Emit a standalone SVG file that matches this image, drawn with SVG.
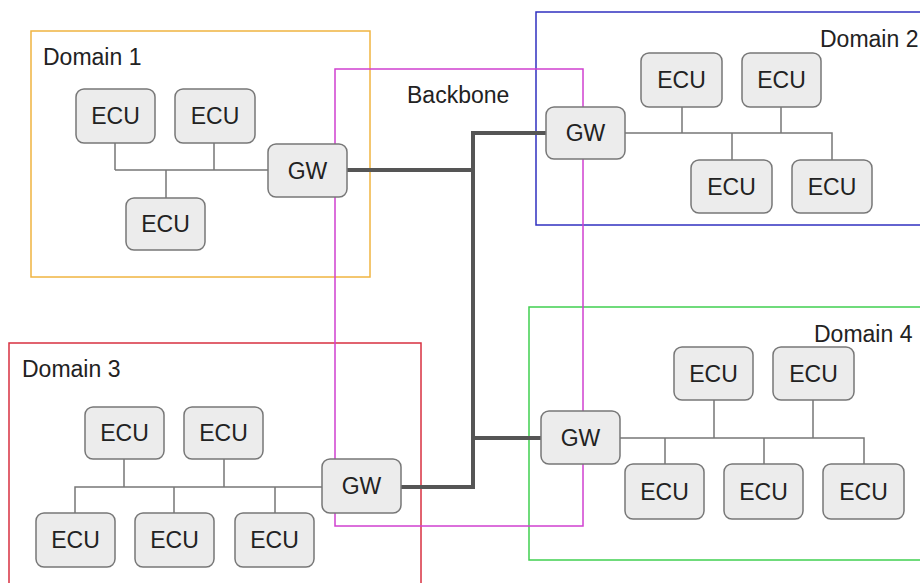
<svg xmlns="http://www.w3.org/2000/svg" width="920" height="583" viewBox="0 0 920 583">
<style>
  .bg{fill:#ffffff}
  .dom{fill:none;stroke-width:1.5}
  .lbl{font-family:"Liberation Sans",Arial,sans-serif;font-size:23px;fill:#222}
  .node rect{fill:#ececec;stroke:#777;stroke-width:1.5}
  .node text{font-family:"Liberation Sans",Arial,sans-serif;font-size:23px;fill:#222;text-anchor:middle}
  .bus{fill:none;stroke:#777;stroke-width:1.5}
  .bb{fill:none;stroke:#555;stroke-width:4;stroke-linejoin:miter}
</style>
<rect class="bg" x="0" y="0" width="920" height="583"/>

<g id="domain1"><rect class="dom" x="31" y="31" width="339" height="246" stroke="#f0b440"/><text class="lbl" x="43" y="65">Domain 1</text></g>
<g id="domain2"><rect class="dom" x="536" y="12" width="390" height="213" stroke="#3030c0"/><text class="lbl" x="820" y="47">Domain 2</text></g>
<g id="domain3"><rect class="dom" x="9" y="343" width="412" height="250" stroke="#d83040"/><text class="lbl" x="22" y="377">Domain 3</text></g>
<g id="domain4"><rect class="dom" x="529" y="307" width="400" height="253" stroke="#40d050"/><text class="lbl" x="814" y="342">Domain 4</text></g>
<g id="backbone"><rect class="dom" x="335" y="69" width="248" height="457" stroke="#d040d0"/><text class="lbl" x="407" y="103">Backbone</text></g>

<g id="connectors">
  <!-- Domain 1 bus -->
  <path class="bus" d="M115 170 H268 M115 143 V170 M214 143 V170 M166 170 V198"/>
  <!-- Domain 2 bus -->
  <path class="bus" d="M625 133 H832 V160 M682 107 V133 M781 107 V133 M732 133 V160"/>
  <!-- Domain 3 bus -->
  <path class="bus" d="M75 513 V487 H322 M124 459 V487 M224 459 V487 M174 487 V513 M275 487 V513"/>
  <!-- Domain 4 bus -->
  <path class="bus" d="M620 438 H864 V464 M714 400 V438 M813 400 V438 M665 438 V464 M764 438 V464"/>
  <!-- Backbone -->
  <path class="bb" d="M347 170 H473 M546 133 H473 V487 H400 M473 438 H541"/>
</g>

<g id="d1-ecu1" class="node"><rect x="76" y="89" width="79" height="54" rx="8"/><text x="115.5" y="124">ECU</text></g>
<g id="d1-ecu2" class="node"><rect x="175" y="89" width="80" height="54" rx="8"/><text x="215" y="124">ECU</text></g>
<g id="d1-ecu3" class="node"><rect x="126" y="198" width="79" height="52" rx="8"/><text x="165.5" y="232">ECU</text></g>
<g id="d1-gw" class="node"><rect x="268" y="144" width="79" height="53" rx="8"/><text x="307.5" y="179">GW</text></g>

<g id="d2-gw" class="node"><rect x="546" y="107" width="79" height="52" rx="8"/><text x="585.5" y="141">GW</text></g>
<g id="d2-ecu1" class="node"><rect x="641" y="53" width="81" height="54" rx="8"/><text x="681.5" y="88">ECU</text></g>
<g id="d2-ecu2" class="node"><rect x="742" y="53" width="79" height="54" rx="8"/><text x="781.5" y="88">ECU</text></g>
<g id="d2-ecu3" class="node"><rect x="691" y="160" width="81" height="53" rx="8"/><text x="731.5" y="195">ECU</text></g>
<g id="d2-ecu4" class="node"><rect x="792" y="160" width="80" height="53" rx="8"/><text x="832" y="195">ECU</text></g>

<g id="d3-ecu1" class="node"><rect x="85" y="407" width="79" height="52" rx="8"/><text x="124.5" y="441">ECU</text></g>
<g id="d3-ecu2" class="node"><rect x="184" y="407" width="79" height="52" rx="8"/><text x="223.5" y="441">ECU</text></g>
<g id="d3-ecu3" class="node"><rect x="36" y="513" width="79" height="54" rx="8"/><text x="75.5" y="548">ECU</text></g>
<g id="d3-ecu4" class="node"><rect x="135" y="513" width="79" height="54" rx="8"/><text x="174.5" y="548">ECU</text></g>
<g id="d3-ecu5" class="node"><rect x="235" y="513" width="79" height="54" rx="8"/><text x="274.5" y="548">ECU</text></g>
<g id="d3-gw" class="node"><rect x="322" y="459" width="79" height="54" rx="8"/><text x="361.5" y="494">GW</text></g>

<g id="d4-gw" class="node"><rect x="541" y="411" width="79" height="53" rx="8"/><text x="580.5" y="446">GW</text></g>
<g id="d4-ecu1" class="node"><rect x="674" y="347" width="79" height="53" rx="8"/><text x="713.5" y="382">ECU</text></g>
<g id="d4-ecu2" class="node"><rect x="773" y="347" width="81" height="53" rx="8"/><text x="813.5" y="382">ECU</text></g>
<g id="d4-ecu3" class="node"><rect x="625" y="464" width="79" height="55" rx="8"/><text x="664.5" y="500">ECU</text></g>
<g id="d4-ecu4" class="node"><rect x="724" y="464" width="79" height="55" rx="8"/><text x="763.5" y="500">ECU</text></g>
<g id="d4-ecu5" class="node"><rect x="823" y="464" width="81" height="55" rx="8"/><text x="863.5" y="500">ECU</text></g>
</svg>
